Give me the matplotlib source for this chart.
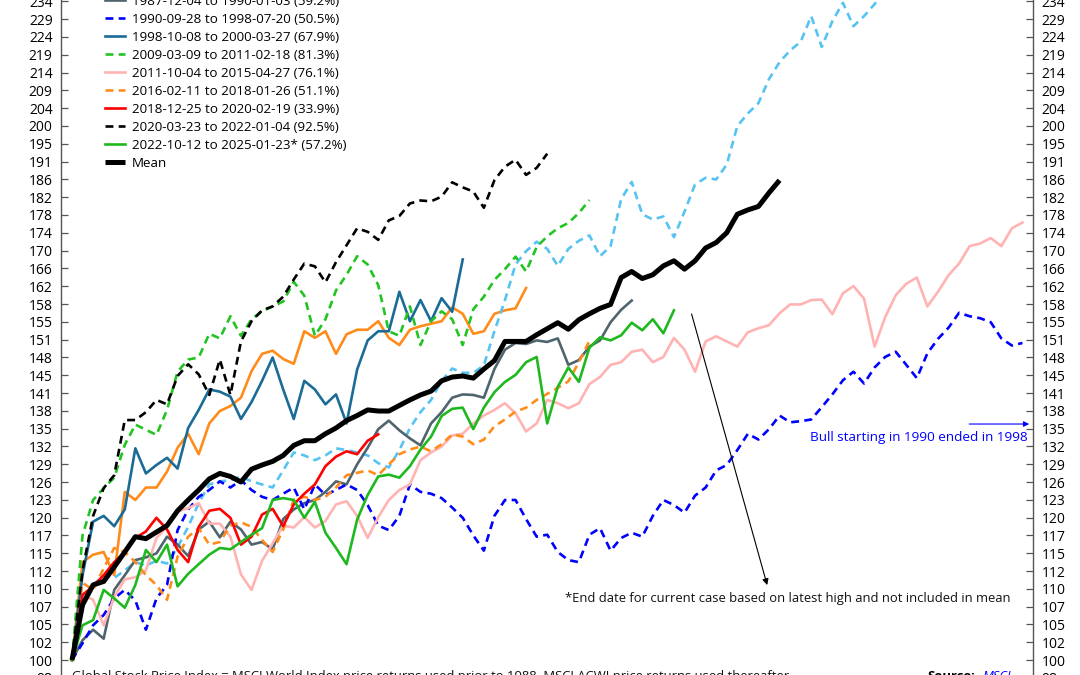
import numpy as np
import matplotlib
matplotlib.use("Agg")
import matplotlib.pyplot as plt
from matplotlib.ticker import FixedLocator, NullLocator, FuncFormatter

plt.rcParams['font.family'] = ['Open Sans', 'DejaVu Sans']

# cumulative index (start = 100), one value every 10 trading days
step = 10

orange_early = [100, 113.5, 114.6, 115, 111.6, 124.3, 123, 125, 125, 127.6, 131.6, 134, 130.5, 135.8,
                138, 138.9, 140.4, 145.3, 148.6, 149.2, 147.6, 146.7, 153, 151.7, 153, 148.6, 152.4,
                153.3, 153.3, 155, 151.7, 150.3, 153.3, 154, 154.5, 155, 157.8, 156.5, 152.5, 153,
                156.5, 157.2, 157.6, 161.8]

lightblue_early = [100, 108.1, 110.2, 111.6, 111.2, 112.3, 113.5, 113, 113.7, 113.3, 115.7, 118.8, 122.5,
                   125.5, 126, 126.2, 126.8, 126, 125.5, 125, 127.8, 130.8, 130.3, 129.5, 130.3, 131.5,
                   131.2, 130.8, 130.3, 129, 128.3, 131.2, 135, 137.8, 140, 143.5, 145.8, 145, 145, 146.4,
                   153, 159.3, 166.8, 169.7, 171.8, 170.2, 166.5, 170.2, 172, 173.2, 168.6, 170.8, 181.5,
                   185.6, 178, 176.8, 177.5, 172.8, 178.6, 185, 186.6, 186.2, 189.8, 199.5, 202.8, 205.5,
                   212, 216.7, 220, 222.5, 230, 221, 228.5, 234, 227, 230, 233.6, 238]

bull_1987 = [100, 102.6, 104, 102.8, 109.5, 111.6, 113.8, 114.2, 114.8, 117.3, 116.1, 114.4, 118.4, 119.6,
             117.2, 119.6, 118.4, 116.1, 116.5, 115.4, 120, 121.5, 122.5, 123, 124.3, 126, 125.5, 128.8,
             131.6, 134.8, 136.3, 134.6, 133.2, 132, 135.8, 137.8, 140.4, 141, 140.9, 140.4, 145.7,
             149.4, 150.7, 150.5, 151.2, 150.9, 151.6, 146.5, 147.4, 150, 151.2, 154.8, 157.3, 159.2]

bull_1990 = [100, 102.2, 104.6, 106, 108.3, 109.5, 108, 104, 108.3, 110.2, 118.3, 121.5, 123.5, 124.6,
             126, 125, 126.2, 124.6, 123.5, 123, 124, 125, 121.5, 125.5, 123.8, 124.6, 125.5, 124.6,
             122.2, 119, 118.3, 120.5, 125.5, 124.3, 124, 123.3, 121.8, 120.2, 117.5, 115.2, 120.5,
             123, 123, 120, 117.3, 117.6, 115, 113.8, 113.5, 117.6, 118.6, 115.2, 117.1, 117.9, 117.3,
             120.5, 123, 122.2, 121, 123.7, 125, 127.8, 128.7, 131.2, 134, 133, 134.8, 137.2, 136,
             136.2, 136.5, 138.7, 141, 143.6, 145.2, 143, 146, 148, 149, 146.5, 144, 148.7, 151.5,
             153.7, 156.7, 156, 155.6, 154.8, 151.6, 150.2, 150.7]

bull_1998 = [100, 111.6, 119.6, 120.5, 118.9, 121.5, 131.5, 127.3, 128.7, 129.9, 128.1, 135, 138.2,
             141.9, 141.5, 140.6, 136.6, 139.6, 143.5, 147.9, 141.9, 136.6, 143.5, 141.9, 139.2, 141,
             135.8, 145.6, 151.2, 153, 153, 161, 155, 159.3, 155, 159.7, 156.9, 167.9]

bull_2009 = [100, 117.5, 123, 124.9, 126.6, 132.1, 135.6, 134.7, 133.8, 138.2, 145.2, 147.5, 147.9,
             152.5, 151.6, 156, 152.1, 155.4, 157, 158, 159, 163.1, 160.2, 152.1, 155.4, 161.3, 164.6,
             168.6, 166.8, 162.4, 153, 152.1, 158, 150.3, 155, 157, 155.4, 150.3, 157.4, 160, 163.5,
             165.8, 168.5, 165.3, 170.6, 173, 174.8, 176, 178.3, 181.3]

bull_2011 = [100, 108.8, 108.1, 104.6, 108.5, 111, 111.3, 112.3, 117.1, 118.8, 121.2, 121.7, 122.5,
             119.3, 119.3, 117.3, 111.7, 109.5, 113.7, 116.3, 119, 118.7, 120.3, 118.7, 119.7, 122.3,
             122.8, 120.5, 117.1, 120.3, 123, 124.6, 125.5, 129.5, 130.8, 131.8, 133.7, 134, 135.8,
             137.2, 138.2, 139.4, 137.6, 134.4, 135.8, 140, 139.4, 138.5, 139.4, 142.9, 144.2, 146.5,
             147, 149, 149.4, 147, 148, 151.7, 149.4, 145.2, 151, 152, 151, 150, 152.8, 153.6, 154.2,
             156.6, 158.4, 158.4, 159.3, 159.4, 156.4, 160.7, 162.2, 159.6, 150, 155.8, 160.3, 162.7,
             164, 158, 161, 164.5, 167, 170.8, 171.4, 172.6, 170.8, 174.8, 176.1]

bull_2016 = [100, 110.5, 109.5, 112.6, 115.6, 115, 113.5, 111.6, 110.2, 108.1, 114.3, 117.3, 118.6,
             116.1, 116.5, 119, 119.5, 118.8, 116.8, 115, 118.4, 123, 123.5, 123, 123.5, 125, 127,
             127.4, 127.8, 127, 128.8, 130.5, 131.3, 131.8, 131, 132.2, 133.9, 133.5, 132.2, 133,
             135.3, 136.5, 137.9, 138.6, 140, 141.1, 142.2, 143.4, 147, 151.1]

bull_2018 = [100, 108.8, 110, 111.6, 113.5, 115, 117.1, 118.1, 120.2, 118.4, 115.3, 113.5, 118.8, 121.3,
             121.6, 120.2, 116.1, 117.3, 120.7, 121.6, 118.9, 122.3, 124, 125.5, 128.5, 130.1, 131,
             130.5, 132.8, 133.9]

bull_2020 = [100, 112.3, 120.5, 124.9, 127, 136.4, 136.4, 137.8, 140, 139.2, 144.4, 146.6, 144.7, 140.9,
             147.5, 140.9, 151, 155, 157.2, 158, 160, 163.6, 167, 166.4, 163, 167.3, 171, 174.8, 174,
             172.2, 176.6, 177.6, 180.5, 181.2, 181, 182.1, 185.5, 184.3, 183.3, 179.5, 186, 189.3,
             191, 187.3, 189, 192.5]

bull_2022 = [100, 104.6, 105.3, 109.5, 108.3, 107, 110.2, 115.3, 113.5, 116.1, 110, 111.8, 113.2, 114.6,
             115.6, 115.4, 116.5, 117.6, 118.6, 123, 123.3, 123, 120.2, 122.7, 117.9, 115.6, 113.2,
             119.9, 123.8, 126.8, 127.1, 126.6, 128.5, 131.3, 133.5, 137.1, 138.4, 138.6, 134.8,
             138.6, 141.4, 143.3, 144.6, 147, 148, 135.8, 142.4, 146, 143.3, 149.8, 151.8, 151.2,
             152.2, 154.7, 153.2, 155.4, 152.6, 157.2]

mean_path = [100, 107.4, 110.2, 110.7, 112.8, 115, 117.3, 117, 118, 119, 121.3, 123, 124.6, 126.4,
             127.3, 126.8, 125.9, 128, 128.7, 129.3, 130.3, 132, 132.8, 132.8, 134, 135, 136.3, 137.2,
             138.2, 138, 138, 139, 140, 140.9, 141.6, 143.5, 144.2, 144.4, 144, 145.7, 147.3, 151,
             151, 151, 152.3, 153.5, 154.7, 153.4, 155.3, 156.5, 157.6, 158.4, 164, 165.3, 163.8,
             164.6, 166.5, 167.6, 165.8, 167.6, 170.4, 171.6, 173.8, 178, 179, 179.8, 183, 186]

series = [
    # values, colour, dashed, label
    (orange_early, '#ff8c1a', False, None),
    (lightblue_early, '#56c3f2', True, None),
    (bull_1987, '#50646e', False, '1987-12-04 to 1990-01-03 (59.2%)'),
    (bull_1990, '#0000ff', True, '1990-09-28 to 1998-07-20 (50.5%)'),
    (bull_1998, '#1b6b97', False, '1998-10-08 to 2000-03-27 (67.9%)'),
    (bull_2009, '#22c422', True, '2009-03-09 to 2011-02-18 (81.3%)'),
    (bull_2011, '#ffb3b3', False, '2011-10-04 to 2015-04-27 (76.1%)'),
    (bull_2016, '#ff8c1a', True, '2016-02-11 to 2018-01-26 (51.1%)'),
    (bull_2018, '#ff0000', False, '2018-12-25 to 2020-02-19 (33.9%)'),
    (bull_2020, '#000000', True, '2020-03-23 to 2022-01-04 (92.5%)'),
    (bull_2022, '#1fb81f', False, '2022-10-12 to 2025-01-23* (57.2%)'),
]

fig = plt.figure(figsize=(10.8, 6.75), dpi=100)
# axes runs past the top and bottom edge: the picture is a crop
ax = fig.add_axes([61 / 1080, -16.6 / 675, 972 / 1080, 708.4 / 675])
ax.set_yscale('log')

for vals, col, dashed, lab in series:
    x = np.arange(len(vals)) * step
    ls = (0, (3, 2)) if dashed else '-'
    ax.plot(x, vals, color=col, lw=1.9, linestyle=ls, label=lab)

ax.plot(np.arange(len(mean_path)) * step, mean_path, color='black', lw=3.6, label='Mean',
        solid_capstyle='butt')

ax.set_xlim(-10.4, 910)
ax.set_ylim(96, 240)

yt = 100 * 10 ** (np.arange(-1, 39) / 100)
ax.yaxis.set_major_locator(FixedLocator(yt))
ax.yaxis.set_minor_locator(NullLocator())
ax.yaxis.set_major_formatter(FuncFormatter(lambda v, p: '%d' % round(v)))
ax.tick_params(axis='y', which='both', direction='in', length=5, width=0.9, color='#555555',
               left=True, right=True, labelleft=True, labelright=True, labelsize=10, pad=6)
ax.set_xticks([])
for s in ax.spines.values():
    s.set_color('#555555')
    s.set_linewidth(1.0)

ax.legend(loc='lower left', bbox_to_anchor=(105 / 1080, (675 - 170) / 675), bbox_transform=fig.transFigure,
          frameon=False, fontsize=9.6, borderpad=0, borderaxespad=0, handlelength=1.5,
          handletextpad=0.5, labelspacing=0.375)

ax.annotate('', xy=(659, 109.8), xytext=(586, 157.0),
            arrowprops=dict(arrowstyle='-|>', color='black', lw=0.8, mutation_scale=9))
ax.text(467, 108.3, '*End date for current case based on latest high and not included in mean',
        fontsize=9.4, va='center', ha='left', color='#111111')

ax.annotate('', xy=(909, 135.7), xytext=(847, 135.7),
            arrowprops=dict(arrowstyle='-|>', color='blue', lw=0.8, mutation_scale=8))
ax.text(905, 133.4, 'Bull starting in 1990 ended in 1998', fontsize=9.7, va='center', ha='right',
        color='blue')

ax.text(0, 97.9, 'Global Stock Price Index = MSCI World Index price returns used prior to 1988, '
        'MSCI ACWI price returns used thereafter.', fontsize=9.4, va='center', ha='left', color='#111111')
ax.text(810, 97.9, 'Source:', fontsize=9.4, va='center', ha='left', fontweight='bold', color='black')
ax.text(862, 97.9, 'MSCI', fontsize=9.4, va='center', ha='left', style='italic', color='blue')

fig.savefig('out.png', dpi=100)
